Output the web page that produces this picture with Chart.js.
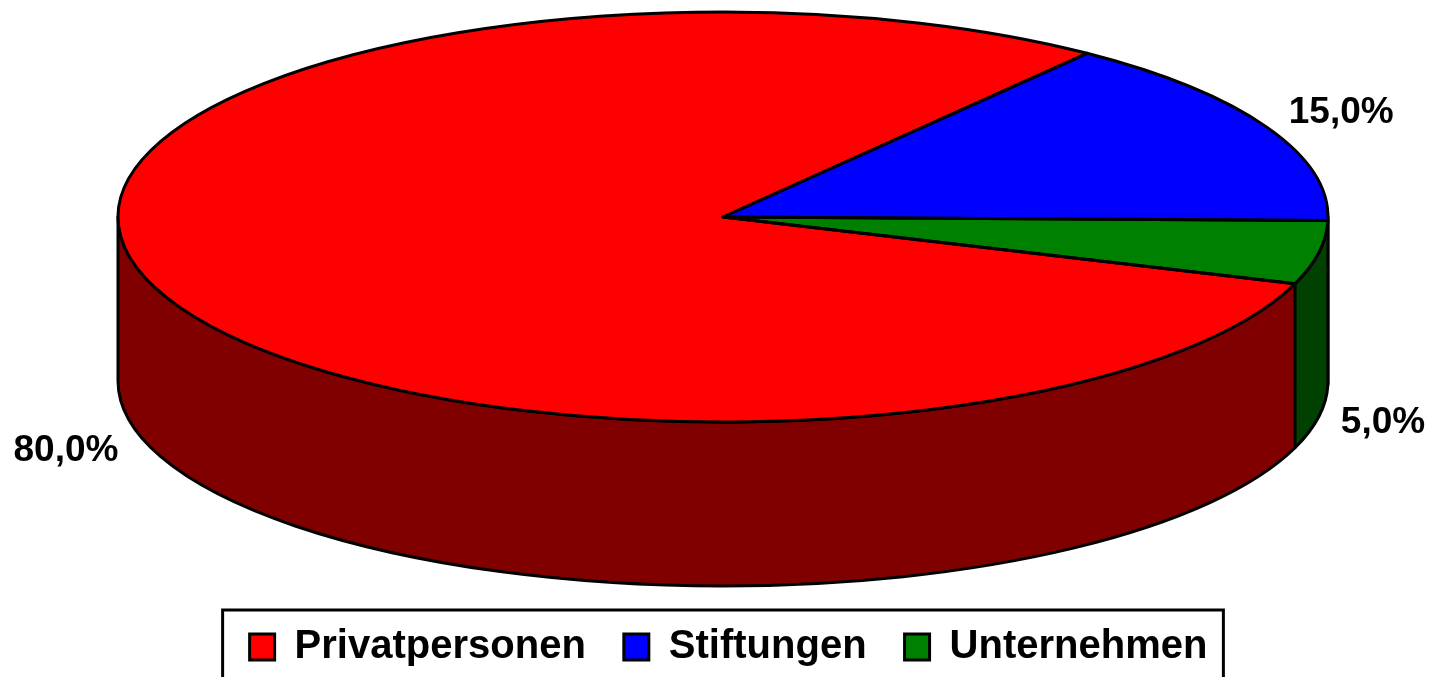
<!DOCTYPE html>
<html>
<head>
<meta charset="utf-8">
<script src="https://cdn.jsdelivr.net/npm/chart.js@4/dist/chart.umd.min.js"></script>
<style>
  html, body { margin: 0; padding: 0; background: #fff; }
  #wrap { width: 1429px; height: 677px; position: relative; }
</style>
</head>
<body>
<div id="wrap"><canvas id="pie3d"></canvas></div>
<script>
// chart data
const categories = ['Privatpersonen', 'Stiftungen', 'Unternehmen'];
const shares = [80.0, 15.0, 5.0];
const topColors = ['#ff0000', '#0000ff', '#008000'];
const sideColors = ['#800000', '#000080', '#004000'];

// look of the fake 3d disc (screen pixels)
const disc = { cx: 723, cy: 217, rx: 605, ry: 205, depth: 164 };
const labelFont = 'bold 37px "Liberation Sans", Arial, sans-serif';

function fmtPct(v) {
    return v.toFixed(1).replace('.', ',') + '%';
}

// draw the side wall of each slice, then squash the pie into an ellipse
const pie3dPlugin = {
    id: 'pie3d',
    beforeDatasetsDraw(chart) {
        const ctx = chart.ctx;
        const arcs = chart.getDatasetMeta(0).data;
        ctx.save();
        ctx.lineWidth = 3;
        ctx.strokeStyle = '#000';
        ctx.lineJoin = 'round';
        arcs.forEach((arc, i) => {
            const s = arc.startAngle, e = arc.endAngle;
            for (let k = -1; k <= 2; k++) {
                const lo = Math.max(s, 2 * Math.PI * k);
                const hi = Math.min(e, 2 * Math.PI * k + Math.PI);
                if (hi <= lo) continue;
                ctx.beginPath();
                ctx.ellipse(disc.cx, disc.cy, disc.rx, disc.ry, 0, lo, hi, false);
                ctx.ellipse(disc.cx, disc.cy + disc.depth, disc.rx, disc.ry, 0, hi, lo, true);
                ctx.closePath();
                ctx.fillStyle = sideColors[i];
                ctx.fill();
                ctx.stroke();
            }
        });
        ctx.restore();

        // map the library's circle onto the top ellipse
        const a = arcs[0];
        const R = a.outerRadius;
        ctx.save();
        ctx.translate(disc.cx, disc.cy);
        ctx.scale(disc.rx / R, disc.ry / R);
        ctx.translate(-a.x, -a.y);
    },
    afterDatasetsDraw(chart) {
        const ctx = chart.ctx;
        ctx.restore();
        const arcs = chart.getDatasetMeta(0).data;

        // outlines of the top face
        ctx.save();
        ctx.lineWidth = 3;
        ctx.strokeStyle = '#000';
        ctx.lineJoin = 'round';
        arcs.forEach(arc => {
            ctx.beginPath();
            ctx.moveTo(disc.cx, disc.cy);
            ctx.ellipse(disc.cx, disc.cy, disc.rx, disc.ry, 0, arc.startAngle, arc.endAngle, false);
            ctx.closePath();
            ctx.stroke();
        });

        // percentage labels just outside the disc edge
        ctx.font = labelFont;
        ctx.fillStyle = '#000';
        ctx.textBaseline = 'middle';
        arcs.forEach((arc, i) => {
            const m = (arc.startAngle + arc.endAngle) / 2;
            const c = Math.cos(m), sn = Math.sin(m);
            const ax = disc.cx + disc.rx * c;
            const ay = disc.cy + disc.ry * sn + (sn > 0 ? disc.depth : 0);
            ctx.textAlign = c >= 0 ? 'left' : 'right';
            ctx.fillText(fmtPct(shares[i]), ax + (c >= 0 ? 22 : -26), ay + 33 * sn);
        });
        ctx.restore();
    },
    afterDraw(chart) {
        // frame around the legend
        const lg = chart.legend;
        if (!lg || !lg.legendHitBoxes.length) return;
        const boxes = lg.legendHitBoxes;
        const first = boxes[0], last = boxes[boxes.length - 1];
        const midY = first.top + first.height / 2;
        const ctx = chart.ctx;
        ctx.save();
        ctx.lineWidth = 3;
        ctx.strokeStyle = '#000';
        const left = first.left - 27;
        const right = last.left + last.width + 16;
        ctx.strokeRect(left, midY - 37, right - left, 120);
        ctx.restore();
    }
};

new Chart(document.getElementById('pie3d'), {
    type: 'pie',
    data: {
        labels: categories,
        datasets: [{
            data: shares,
            backgroundColor: topColors,
            borderColor: '#000',
            borderWidth: 0,
            clip: false
        }]
    },
    options: {
        responsive: true,
        maintainAspectRatio: false,
        animation: false,
        rotation: 109,
        layout: { padding: { left: 28, bottom: 0 } },
        plugins: {
            tooltip: { enabled: false },
            legend: {
                position: 'bottom',
                labels: {
                    boxWidth: 25,
                    boxHeight: 26,
                    padding: 38,
                    color: '#000',
                    font: { family: '"Liberation Sans", Arial, sans-serif', size: 40, weight: 'bold' },
                    generateLabels(chart) {
                        return categories.map((name, i) => ({
                            text: name,
                            fillStyle: topColors[i],
                            strokeStyle: '#000',
                            lineWidth: 3,
                            hidden: false,
                            index: i
                        }));
                    }
                }
            }
        }
    },
    plugins: [pie3dPlugin]
});
</script>
</body>
</html>
